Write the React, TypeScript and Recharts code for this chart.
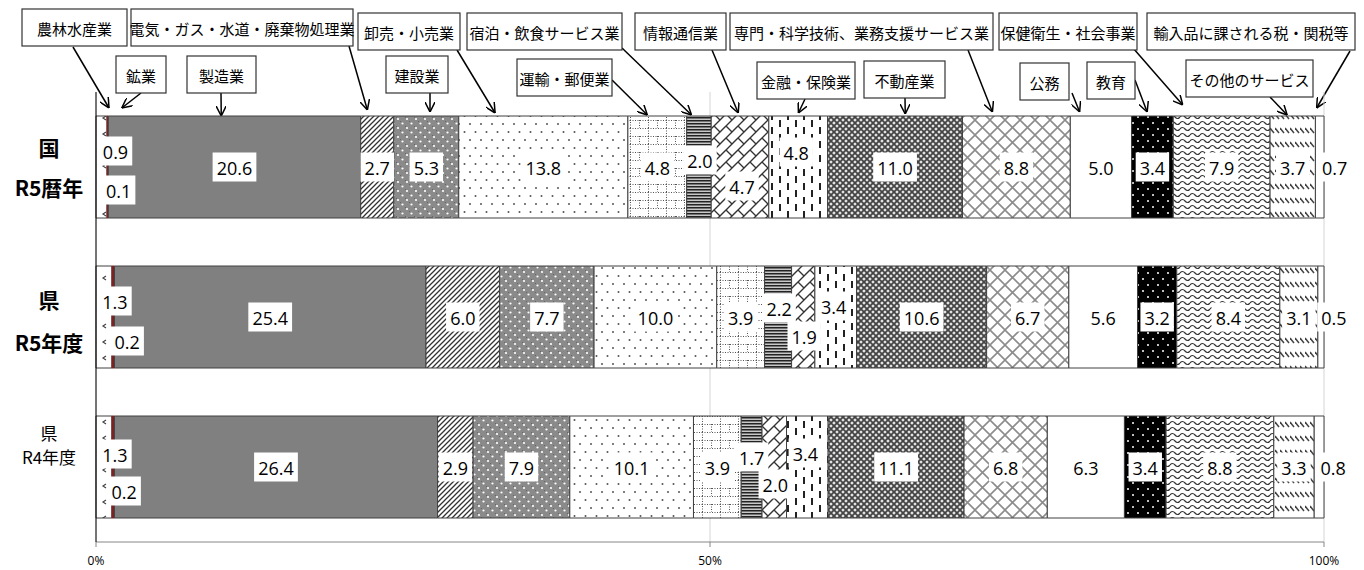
import React from 'react';
import { BarChart, Bar, XAxis, YAxis, CartesianGrid, LabelList } from 'recharts';

// rows (top to bottom)
const rowNames = ['国R5暦年', '県R5年度', '県R4年度'];
const rowLines = [['国', 'R5暦年'], ['県', 'R5年度'], ['県', 'R4年度']];

const industries = [
  '農林水産業', '鉱業', '製造業', '電気・ガス・水道・廃棄物処理業', '建設業', '卸売・小売業',
  '運輸・郵便業', '宿泊・飲食サービス業', '情報通信業', '金融・保険業', '不動産業',
  '専門・科学技術、業務支援サービス業', '公務', '教育', '保健衛生・社会事業', 'その他のサービス',
  '輸入品に課される税・関税等',
];

// 構成比 (%)
const nationR5 = [0.9, 0.1, 20.6, 2.7, 5.3, 13.8, 4.8, 2.0, 4.7, 4.8, 11.0, 8.8, 5.0, 3.4, 7.9, 3.7, 0.7];
const prefR5 = [1.3, 0.2, 25.4, 6.0, 7.7, 10.0, 3.9, 2.2, 1.9, 3.4, 10.6, 6.7, 5.6, 3.2, 8.4, 3.1, 0.5];
const prefR4 = [1.3, 0.2, 26.4, 2.9, 7.9, 10.1, 3.9, 1.7, 2.0, 3.4, 11.1, 6.8, 6.3, 3.4, 8.8, 3.3, 0.8];

const xTicks = [0, 0.5, 1];

const seriesByRow = [nationR5, prefR5, prefR4];
const chartData = rowNames.map((name, r) => {
  const row: Record<string, any> = { name };
  industries.forEach((ind, i) => { row[ind] = seriesByRow[r][i]; });
  return row;
});

// layout
const W = 1364;
const H = 570;
const PLOT_LEFT = 96;
const PLOT_RIGHT = 1324;
const pctToX = (p: number) => PLOT_LEFT + (p / 100) * (PLOT_RIGHT - PLOT_LEFT);

const fills = [
  'url(#pAgri)', '#7d2222', '#808080', 'url(#pElec)', 'url(#pCons)', 'url(#pTrade)',
  'url(#pTrans)', 'url(#pHotel)', 'url(#pInfo)', 'url(#pFin)', 'url(#pReal)',
  'url(#pProf)', '#ffffff', 'url(#pEdu)', 'url(#pHealth)', 'url(#pOther)', '#ffffff',
];

// label nudges [dx, dy] per row for the narrow segments
const labelNudge: Record<string, [number, number][]> = {
  '農林水産業': [[14, -16], [11, -16], [11, -13]],
  '鉱業': [[11, 23], [14, 24], [11, 24]],
  '宿泊・飲食サービス業': [[1, -7], [1, -9], [0, -10]],
  '情報通信業': [[2, 19], [1, 19], [1, 17]],
  '金融・保険業': [[-2, -15], [-2, -11], [-2, -14]],
  '輸入品に課される税・関税等': [[15, 0], [13, 0], [14, 0]],
};

const rowStyle = [
  { weight: 700, size: 21, dys: [-20, 20] },
  { weight: 700, size: 21, dys: [-18, 25] },
  { weight: 400, size: 17, dys: [-35, -11] },
];

// callouts: box x, y, width; arrow start; arrow target (% position, y)
const callouts = [
  { text: '農林水産業', x: 22, y: 9, w: 105, sx: 73, sy: 47, tp: 1.06, ty: 108 },
  { text: '鉱業', x: 116, y: 56, w: 50, sx: 141, sy: 93, tp: 2.1, ty: 108 },
  { text: '製造業', x: 187, y: 56, w: 69, sx: 221, sy: 93, tp: 10.2, ty: 116 },
  { text: '電気・ガス・水道・廃棄物処理業', x: 131, y: 9, w: 222, sx: 349, sy: 46, tp: 22.1, ty: 110 },
  { text: '建設業', x: 386, y: 56, w: 62, sx: 430, sy: 93, tp: 27.2, ty: 112 },
  { text: '卸売・小売業', x: 358, y: 13, w: 102, sx: 457, sy: 50, tp: 32.5, ty: 113 },
  { text: '運輸・郵便業', x: 517, y: 59, w: 95, sx: 612, sy: 80, tp: 44.9, ty: 115 },
  { text: '宿泊・飲食サービス業', x: 467, y: 13, w: 155, sx: 622, sy: 48, tp: 48.5, ty: 115 },
  { text: '情報通信業', x: 635, y: 13, w: 91, sx: 712, sy: 50, tp: 52.3, ty: 113 },
  { text: '金融・保険業', x: 757, y: 62, w: 98, sx: 805, sy: 99, tp: 57.2, ty: 113 },
  { text: '不動産業', x: 864, y: 61, w: 81, sx: 905, sy: 98, tp: 65.9, ty: 114 },
  { text: '専門・科学技術、業務支援サービス業', x: 730, y: 13, w: 263, sx: 968, sy: 50, tp: 73.0, ty: 112 },
  { text: '公務', x: 1020, y: 63, w: 49, sx: 1072, sy: 93, tp: 80.1, ty: 112 },
  { text: '教育', x: 1087, y: 62, w: 48, sx: 1135, sy: 80, tp: 85.6, ty: 112 },
  { text: '保健衛生・社会事業', x: 999, y: 13, w: 138, sx: 1133, sy: 48, tp: 88.5, ty: 105 },
  { text: 'その他のサービス', x: 1186, y: 60, w: 127, sx: 1270, sy: 97, tp: 97.0, ty: 115 },
  { text: '輸入品に課される税・関税等', x: 1147, y: 13, w: 208, sx: 1350, sy: 51, tp: 99.4, ty: 108 },
];

const LABEL_FONT = 18;
const textWidth = (s: string) =>
  s.split('').reduce((acc, ch) => acc + (ch === '.' ? 0.27 : 0.572) * LABEL_FONT, 0);

const makeLabel = (ind: string) => (props: any) => {
  const { x, y, width, height, value, index } = props;
  if (value == null) return null;
  const s = Number(value).toFixed(1);
  const nudge = labelNudge[ind] ? labelNudge[ind][index] : [0, 0];
  const cx = Number(x) + Number(width) / 2 + nudge[0];
  const cy = Number(y) + Number(height) / 2 + nudge[1];
  const bw = textWidth(s) + 8;
  const bh = 29;
  return (
    <g>
      <rect x={cx - bw / 2} y={cy - bh / 2} width={bw} height={bh} fill="#fff" />
      <text x={cx} y={cy + 1} textAnchor="middle" dominantBaseline="central"
        fontFamily="'Open Sans', sans-serif" fontSize={LABEL_FONT} fill="#000">
        {s}
      </text>
    </g>
  );
};

const RowTick = (props: any) => {
  const { y, payload } = props;
  const idx = rowNames.indexOf(payload.value);
  const st = rowStyle[idx];
  const lines = rowLines[idx];
  return (
    <g>
      {lines.map((ln, i) => (
        <text key={i} x={49} y={y + st.dys[i]} textAnchor="middle" dominantBaseline="central"
          fontFamily="'Noto Sans CJK JP', sans-serif" fontWeight={st.weight} fontSize={st.size} fill="#000">
          {ln}
        </text>
      ))}
    </g>
  );
};

const Patterns = () => (
  <defs>
    <pattern id="pAgri" width="10" height="16" patternUnits="userSpaceOnUse">
      <rect width="10" height="16" fill="#fff" />
      <path d="M6,4 L3,6 L6,8" fill="none" stroke="#444" strokeWidth="1.2" />
    </pattern>
    <pattern id="pElec" width="5" height="5" patternUnits="userSpaceOnUse">
      <rect width="5" height="5" fill="#fff" />
      <path d="M-1,1 l2,-2 M0,5 l5,-5 M4,6 l2,-2" stroke="#333" strokeWidth="1.3" />
    </pattern>
    <pattern id="pCons" width="9" height="9" patternUnits="userSpaceOnUse">
      <rect width="9" height="9" fill="#8a8a8a" />
      <rect x="0" y="0" width="1" height="1" fill="#666" />
      <rect x="4" y="4" width="1" height="1" fill="#666" />
      <circle cx="2" cy="2" r="1.1" fill="#fff" />
      <circle cx="6.5" cy="6.5" r="1.1" fill="#fff" />
    </pattern>
    <pattern id="pTrade" width="11" height="16" patternUnits="userSpaceOnUse">
      <rect width="11" height="16" fill="#fff" />
      <circle cx="2.5" cy="4" r="1" fill="#555" />
      <circle cx="8" cy="12" r="1" fill="#555" />
    </pattern>
    <pattern id="pTrans" width="18" height="16" patternUnits="userSpaceOnUse">
      <rect width="18" height="16" fill="#fff" />
      <path d="M0.5,0 V16 M0,0.5 H18 M9.5,8 V16 M0,8.5 H18" stroke="#555" strokeWidth="1" strokeDasharray="1 1.5" />
    </pattern>
    <pattern id="pHotel" width="4" height="3" patternUnits="userSpaceOnUse">
      <rect width="4" height="3" fill="#c8c8c8" />
      <rect width="4" height="1.5" fill="#222" />
    </pattern>
    <pattern id="pInfo" width="12" height="12" patternUnits="userSpaceOnUse">
      <rect width="12" height="12" fill="#fff" />
      <path d="M-1,13 L13,-1 M6,6 L12,12 M0,0 L0.5,0.5" stroke="#333" strokeWidth="1.4" fill="none" />
    </pattern>
    <pattern id="pFin" width="16" height="28" patternUnits="userSpaceOnUse">
      <rect width="16" height="28" fill="#fff" />
      <path d="M4,1 V8 M4,15 V22 M12,8 V15 M12,22 V29 M12,-6 V1" stroke="#222" strokeWidth="2" />
    </pattern>
    <pattern id="pReal" width="6" height="6" patternUnits="userSpaceOnUse">
      <rect width="6" height="6" fill="#e6e6e6" />
      <path d="M0,0 L6,6 M6,0 L0,6" stroke="#444" strokeWidth="1.8" />
    </pattern>
    <pattern id="pProf" width="15" height="15" patternUnits="userSpaceOnUse">
      <rect width="15" height="15" fill="#fff" />
      <path d="M0,0 L15,15 M15,0 L0,15" stroke="#8c8c8c" strokeWidth="1.6" />
    </pattern>
    <pattern id="pEdu" width="10" height="12" patternUnits="userSpaceOnUse">
      <rect width="10" height="12" fill="#000" />
      <circle cx="3" cy="3" r="1" fill="#fff" />
      <circle cx="8" cy="9" r="1" fill="#fff" />
    </pattern>
    <pattern id="pHealth" width="10" height="6" patternUnits="userSpaceOnUse">
      <rect width="10" height="6" fill="#fff" />
      <path d="M0,3 Q2.5,0 5,3 T10,3" stroke="#333" strokeWidth="1.2" fill="none" />
    </pattern>
    <pattern id="pOther" width="5" height="14" patternUnits="userSpaceOnUse">
      <rect width="5" height="14" fill="#fff" />
      <path d="M0,2 L4,7" stroke="#444" strokeWidth="1.5" />
    </pattern>
    <marker id="arrowHead" viewBox="0 0 10 10" refX="10" refY="5" markerWidth="10" markerHeight="10"
      markerUnits="userSpaceOnUse" orient="auto">
      <path d="M0,0 L10,5 L0,10" fill="none" stroke="#000" strokeWidth="1.5" />
    </marker>
  </defs>
);

const Callouts = () => (
  <svg width={W} height={H} style={{ position: 'absolute', left: 0, top: 0, pointerEvents: 'none' }}>
    <Patterns />
    {callouts.map((c) => (
      <g key={c.text}>
        <line x1={c.sx} y1={c.sy} x2={pctToX(c.tp)} y2={c.ty} stroke="#000" strokeWidth={1.5}
          markerEnd="url(#arrowHead)" />
        <rect x={c.x} y={c.y} width={c.w} height={37} fill="#fff" stroke="#333" strokeWidth={1.2} />
        <text x={c.x + c.w / 2} y={c.y + 19} textAnchor="middle" dominantBaseline="central"
          fontFamily="'Noto Sans CJK JP', sans-serif" fontSize={15} fill="#000">
          {c.text}
        </text>
      </g>
    ))}
  </svg>
);

export default function App() {
  return (
    <div style={{ position: 'absolute', left: 0, top: 0, width: W, height: H, background: '#fff' }}>
      <Callouts />
      <div style={{ position: 'absolute', left: 0, top: 0 }}>
        <BarChart
          width={W}
          height={H}
          data={chartData}
          layout="vertical"
          stackOffset="expand"
          barCategoryGap="16%"
          margin={{ top: 92, right: W - PLOT_RIGHT, left: 0, bottom: 0 }}
        >
          <CartesianGrid horizontal={false} vertical stroke="#d4d4d4" />
          <XAxis
            type="number"
            domain={[0, 1]}
            ticks={xTicks}
            tickFormatter={(v: number) => `${Math.round(v * 100)}%`}
            height={28}
            tickSize={5}
            tickMargin={9}
            axisLine={{ stroke: '#868686' }}
            tickLine={{ stroke: '#868686' }}
            tick={{ fill: '#000', fontSize: 12, fontFamily: "'Open Sans', sans-serif" }}
          />
          <YAxis
            type="category"
            dataKey="name"
            width={PLOT_LEFT}
            axisLine={{ stroke: '#000' }}
            tickLine={false}
            tick={<RowTick />}
          />
          {industries.map((ind, i) => (
            <Bar
              key={ind}
              dataKey={ind}
              stackId="a"
              fill={fills[i]}
              stroke={i === 1 ? '#7d2222' : '#404040'}
              strokeWidth={1}
              isAnimationActive={false}
            >
              <LabelList dataKey={ind} content={makeLabel(ind)} />
            </Bar>
          ))}
        </BarChart>
      </div>
    </div>
  );
}
